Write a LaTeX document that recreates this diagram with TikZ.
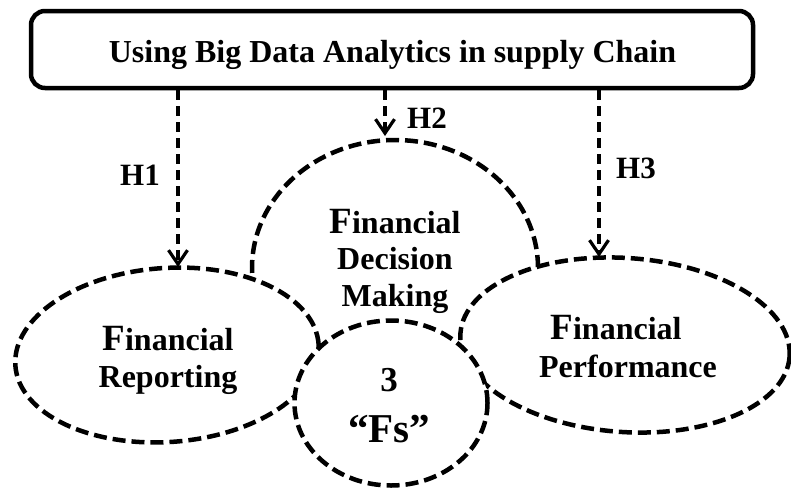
\documentclass[tikz,border=0pt]{standalone}
\usepackage{fontspec}
\setmainfont{Liberation Serif}
\usetikzlibrary{arrows.meta,shapes.geometric}
% enlarged initial F used in the "Financial" labels
\newcommand\capF{{\fontsize{37}{37}\selectfont F}}
\begin{document}
\begin{tikzpicture}[x=1pt,y=-1pt,
  blob/.style={ellipse, draw=black, fill=white, line width=4.5pt,
               dash pattern=on 13pt off 6pt, inner sep=0pt},
  headbox/.style={rectangle, rounded corners=14pt, draw=black, line width=4.5pt, inner sep=0pt},
  lbl/.style={font={\fontsize{32}{37}\selectfont\bfseries}, align=center, inner sep=0pt},
  hyp/.style={font={\fontsize{31}{31}\selectfont\bfseries}, inner sep=0pt, anchor=base},
  link/.style={line width=3.2pt, dash pattern=on 10pt off 6pt,
               -{Straight Barb[length=14pt,width=19pt]}}
]
\useasboundingbox (0,0) rectangle (791,490);

% header box
\node[headbox, minimum width=722pt, minimum height=77pt] (box) at (392,49.5) {};
\node[anchor=base, inner sep=0pt, font={\fontsize{32}{37}\selectfont\bfseries}] (title)
  at (392.5,62) {Using Big Data Analytics in supply Chain};

% the three overlapping ellipses and the central circle (back to front)
\node[blob, minimum width=286pt, minimum height=256pt] (dec) at (395,268) {};
\node[blob, minimum width=304pt, minimum height=174pt, rotate=4] (rep) at (167,355) {};
\node[blob, minimum width=330pt, minimum height=174pt, rotate=-4] (perf) at (625,345) {};
\node[blob, minimum width=193pt, minimum height=165pt] (fs) at (391,403) {};

% labels
\node[lbl, font={\fontsize{32}{36.5}\selectfont\bfseries}] (dectxt) at (395,261)
  {\capF inancial\\Decision\\Making};
\node[lbl] (reptxt) at (168,360) {\capF inancial\\Reporting};
\node[lbl, font={\fontsize{32}{38}\selectfont\bfseries}] (perftxt) at (628,347)
  {\capF inancial\hspace*{24pt}\\Performance};
\node[lbl, font={\fontsize{35}{51}\selectfont\bfseries}] (fstxt) at (389,405.6)
  {3\\{\fontsize{41}{51}\selectfont ``Fs''}};

% hypothesis arrows
\coordinate (h1e) at (178,267);
\coordinate (h2e) at (385,136);
\coordinate (h3e) at (599,257);
\draw[link] (box.south -| h1e) -- (h1e);
\draw[link] (box.south -| h2e) -- (h2e);
\draw[link] (box.south -| h3e) -- (h3e);

\node[hyp] (h1) at (140,185) {H1};
\node[hyp] (h2) at (427,128) {H2};
\node[hyp] (h3) at (636,178) {H3};
\end{tikzpicture}
\end{document}
